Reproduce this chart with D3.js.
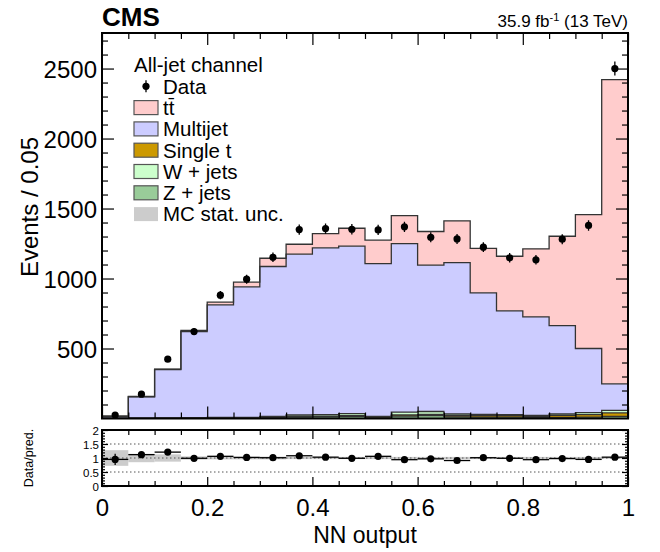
<!DOCTYPE html>
<html><head><meta charset="utf-8">
<script src="https://cdn.jsdelivr.net/npm/d3@7"></script>
<style>
body{margin:0;background:#fff}
svg{display:block}
text{font-family:"Liberation Sans",Arial,Helvetica,sans-serif;fill:#000}
</style>
</head><body>
<svg id="c" width="660" height="552"></svg>
<script>
// ---------------- data ----------------
const binLow  = [0,0.05,0.1,0.15,0.2,0.25,0.3,0.35,0.4,0.45,0.5,0.55,0.6,0.65,0.7,0.75,0.8,0.85,0.9,0.95];
const binHigh = [0.05,0.1,0.15,0.2,0.25,0.3,0.35,0.4,0.45,0.5,0.55,0.6,0.65,0.7,0.75,0.8,0.85,0.9,0.95,1.0];
const zJets    = [1,1,1,2,2,3,6,10,11,15,5,17,20,12,10,10,6,8,10,15];
const singleT  = [0,1,1,2,2,2,3,5,5,6,5,8,10,8,10,10,10,14,18,25];
const wJets    = [1,1,2,2,3,3,6,10,12,14,5,20,20,12,10,8,6,10,14,18];
const multijet = [14,152,346,615,805,933,1071,1149,1191,1196,1091,1205,1045,1082,868,741,704,632,458,190];
const ttbar    = [0,2,3,8,19,33,59,71,102,128,168,200,241,298,318,390,486,638,957,2173];
const dataObs  = [25,174,424,621,881,995,1152,1350,1357,1352,1347,1369,1295,1283,1224,1148,1134,1281,1379,2500];
const ratio    = [0.95,1.12,1.21,0.99,1.06,1.02,1.01,1.08,1.03,0.99,1.06,0.94,0.97,0.91,1.01,0.99,0.94,0.98,0.95,1.03];
const ratioErr = [0.2,0.09,0.06,0.04,0.04,0.03,0.03,0.03,0.03,0.03,0.03,0.03,0.03,0.03,0.03,0.03,0.03,0.03,0.03,0.02];
const mcUnc    = [0.28,0.15,0.13,0.06,0.05,0.05,0.05,0.04,0.04,0.04,0.04,0.04,0.04,0.04,0.04,0.04,0.04,0.04,0.04,0.03];

const xMajor = [0,0.2,0.4,0.6,0.8,1];
const xMajorLabels = ["0","0.2","0.4","0.6","0.8","1"];
const xMinor = [0.05,0.1,0.15,0.25,0.3,0.35,0.45,0.5,0.55,0.65,0.7,0.75,0.85,0.9,0.95];
const yMajor = [500,1000,1500,2000,2500];
const yMinor = [100,200,300,400,600,700,800,900,1100,1200,1300,1400,1600,1700,1800,1900,2100,2200,2300,2400,2600,2700];
const rMajor = [0,0.5,1,1.5,2];
const rMajorLabels = ["0","0.5","1","1.5","2"];
const rMinor = [0.1,0.2,0.3,0.4,0.6,0.7,0.8,0.9,1.1,1.2,1.3,1.4,1.6,1.7,1.8,1.9];

// stack, bottom -> top
const stackSeries = [zJets, singleT, wJets, multijet, ttbar];
const stackColors = ["#99cc99","#cc9900","#ccffcc","#ccccff","#ffcccc"];

const legendNames  = ["tt\u0304","Multijet","Single t","W + jets","Z + jets","MC stat. unc."];
const legendColors = ["#ffcccc","#ccccff","#cc9900","#ccffcc","#99cc99","#cccccc"];

// ---------------- layout ----------------
const svg = d3.select("#c");
const L = 102, R = 628, T = 33, B = 418.5, RT = 430, RB = 486;
const x  = d3.scaleLinear().domain([0,1]).range([L,R]);
const y  = d3.scaleLinear().domain([0,2754]).range([B,T]);
const yr = d3.scaleLinear().domain([0,2]).range([RB,RT]);

// cumulative stack
const nb = binLow.length;
const cum = [];
let base = new Array(nb).fill(0);
stackSeries.forEach((s,k)=>{
  const lo = base.slice();
  const hi = lo.map((v,i)=>v+s[i]);
  cum.push({lo,hi,color:stackColors[k]});
  base = hi;
});

function stepPts(vals){
  const pts=[];
  for(let i=0;i<nb;i++){ pts.push([binLow[i],vals[i]]); pts.push([binHigh[i],vals[i]]); }
  return pts;
}
const main = svg.append("g");
svg.append("clipPath").attr("id","mc").append("rect")
  .attr("x",L).attr("y",T).attr("width",R-L).attr("height",B-T);
const plot = main.append("g").attr("clip-path","url(#mc)");

cum.forEach(c=>{
  const lo = stepPts(c.lo), hi = stepPts(c.hi);
  const area = d3.area().x(d=>x(d[0])).y0((d,i)=>y(lo[i][1])).y1(d=>y(d[1]));
  plot.append("path").attr("d",area(hi)).attr("fill",c.color).attr("stroke","none");
});
cum.forEach(c=>{
  const hi = stepPts(c.hi);
  const line = d3.line().x(d=>x(d[0])).y(d=>y(d[1]));
  plot.append("path").attr("d",line(hi)).attr("fill","none")
    .attr("stroke","#333").attr("stroke-width",1.3);
});

// data points
const centers = binLow.map((l,i)=>(l+binHigh[i])/2);
dataObs.forEach((v,i)=>{
  const e = Math.sqrt(v);
  plot.append("line").attr("x1",x(centers[i])).attr("x2",x(centers[i]))
    .attr("y1",y(v-e)).attr("y2",y(v+e)).attr("stroke","#000").attr("stroke-width",1.3);
  plot.append("circle").attr("cx",x(centers[i])).attr("cy",y(v)).attr("r",3.6).attr("fill","#000");
});

// axes helper
function ticks(g, axisFn, scale, vals, size, labels, fs){
  const ax = axisFn(scale).tickValues(vals).tickSizeInner(size).tickSizeOuter(0)
    .tickPadding(6).tickFormat(labels ? ((d,i)=>labels[i]) : "");
  g.call(ax);
  g.select(".domain").remove();
  g.selectAll(".tick line").attr("stroke","#000").attr("stroke-width",1.2);
  g.selectAll(".tick text").style("font-size",fs+"px").attr("fill","#000");
  return g;
}
ticks(main.append("g").attr("transform",`translate(0,${B})`), d3.axisBottom, x, xMajor, -12, null);
ticks(main.append("g").attr("transform",`translate(0,${B})`), d3.axisBottom, x, xMinor, -6, null);
ticks(main.append("g").attr("transform",`translate(0,${T})`), d3.axisTop, x, xMajor, -12, null);
ticks(main.append("g").attr("transform",`translate(0,${T})`), d3.axisTop, x, xMinor, -6, null);
ticks(main.append("g").attr("transform",`translate(${L},0)`), d3.axisLeft, y, yMajor, -12, yMajor.map(String), 24)
  .selectAll(".tick text").attr("x",-5).attr("dy","0.36em");
ticks(main.append("g").attr("transform",`translate(${L},0)`), d3.axisLeft, y, yMinor, -6, null);
ticks(main.append("g").attr("transform",`translate(${R},0)`), d3.axisRight, y, yMajor, -12, null);
ticks(main.append("g").attr("transform",`translate(${R},0)`), d3.axisRight, y, yMinor, -6, null);
main.append("rect").attr("x",L).attr("y",T).attr("width",R-L).attr("height",B-T)
  .attr("fill","none").attr("stroke","#000").attr("stroke-width",2);

// ---------------- ratio panel ----------------
const rat = svg.append("g");
rat.append("clipPath").attr("id","rc").append("rect")
  .attr("x",L).attr("y",RT).attr("width",R-L).attr("height",RB-RT);
const rp = rat.append("g").attr("clip-path","url(#rc)");
binLow.forEach((l,i)=>{
  rp.append("rect").attr("x",x(l)).attr("width",x(binHigh[i])-x(l))
    .attr("y",yr(1+mcUnc[i])).attr("height",yr(1-mcUnc[i])-yr(1+mcUnc[i]))
    .attr("fill","#cccccc");
});
[0.5,1,1.5].forEach(v=>{
  rp.append("line").attr("x1",L).attr("x2",R).attr("y1",yr(v)).attr("y2",yr(v))
    .attr("stroke","#555").attr("stroke-width",1).attr("stroke-dasharray","1.5,2.5");
});
ratio.forEach((v,i)=>{
  rp.append("line").attr("x1",x(binLow[i])).attr("x2",x(binHigh[i]))
    .attr("y1",yr(v)).attr("y2",yr(v)).attr("stroke","#000").attr("stroke-width",1.3);
  rp.append("line").attr("x1",x(centers[i])).attr("x2",x(centers[i]))
    .attr("y1",yr(v-ratioErr[i])).attr("y2",yr(v+ratioErr[i])).attr("stroke","#000").attr("stroke-width",1.3);
  rp.append("circle").attr("cx",x(centers[i])).attr("cy",yr(v)).attr("r",3.6).attr("fill","#000");
});
ticks(rat.append("g").attr("transform",`translate(0,${RB})`), d3.axisBottom, x, xMajor, -9, xMajorLabels, 24)
  .selectAll(".tick text").attr("y",13).attr("dy","0.71em");
ticks(rat.append("g").attr("transform",`translate(0,${RB})`), d3.axisBottom, x, xMinor, -5, null);
ticks(rat.append("g").attr("transform",`translate(0,${RT})`), d3.axisTop, x, xMajor, -9, null);
ticks(rat.append("g").attr("transform",`translate(0,${RT})`), d3.axisTop, x, xMinor, -5, null);
ticks(rat.append("g").attr("transform",`translate(${L},0)`), d3.axisLeft, yr, rMajor, -6, rMajorLabels, 11.5)
  .selectAll(".tick text").attr("x",-3).attr("dy","0.36em");
ticks(rat.append("g").attr("transform",`translate(${L},0)`), d3.axisLeft, yr, rMinor, -3, null);
ticks(rat.append("g").attr("transform",`translate(${R},0)`), d3.axisRight, yr, rMajor, -6, null);
ticks(rat.append("g").attr("transform",`translate(${R},0)`), d3.axisRight, yr, rMinor, -3, null);
rat.append("rect").attr("x",L).attr("y",RT).attr("width",R-L).attr("height",RB-RT)
  .attr("fill","none").attr("stroke","#000").attr("stroke-width",2);

// ---------------- titles ----------------
svg.append("text").attr("x",L).attr("y",26).style("font-size","26px").style("font-weight","bold").text("CMS");
const lumi = svg.append("text").attr("x",R).attr("y",27).attr("text-anchor","end").style("font-size","17px");
lumi.append("tspan").text("35.9 fb");
lumi.append("tspan").attr("dy",-6).style("font-size","11px").text("-1");
lumi.append("tspan").attr("dy",6).text(" (13 TeV)");

svg.append("text").attr("transform","translate(38,137) rotate(-90)").attr("text-anchor","end")
  .style("font-size","24px").text("Events / 0.05");
svg.append("text").attr("transform","translate(33,458) rotate(-90)").attr("text-anchor","middle")
  .style("font-size","12.5px").text("Data/pred.");
svg.append("text").attr("x",(L+R)/2).attr("y",543).attr("text-anchor","middle")
  .style("font-size","23px").text("NN output");

// ---------------- legend ----------------
const lg = svg.append("g");
const lx = 134, ly0 = 65, dy = 21.3, lfs = "20.5px";
lg.append("text").attr("x",lx).attr("y",ly0).attr("dy","0.36em").style("font-size",lfs).text("All-jet channel");
lg.append("line").attr("x1",lx+12).attr("x2",lx+12).attr("y1",ly0+dy-6).attr("y2",ly0+dy+6)
  .attr("stroke","#000").attr("stroke-width",1.3);
lg.append("circle").attr("cx",lx+12).attr("cy",ly0+dy).attr("r",3.6).attr("fill","#000");
lg.append("text").attr("x",lx+29).attr("y",ly0+dy).attr("dy","0.36em").style("font-size",lfs).text("Data");
legendNames.forEach((n,i)=>{
  const yy = ly0 + dy*(i+2);
  lg.append("rect").attr("x",lx).attr("y",yy-7).attr("width",24).attr("height",14)
    .attr("fill",legendColors[i])
    .attr("stroke", i===5 ? "none" : "#555").attr("stroke-width",1.2);
  lg.append("text").attr("x",lx+29).attr("y",yy).attr("dy","0.36em").style("font-size",lfs).text(n);
});
</script>
</body></html>
